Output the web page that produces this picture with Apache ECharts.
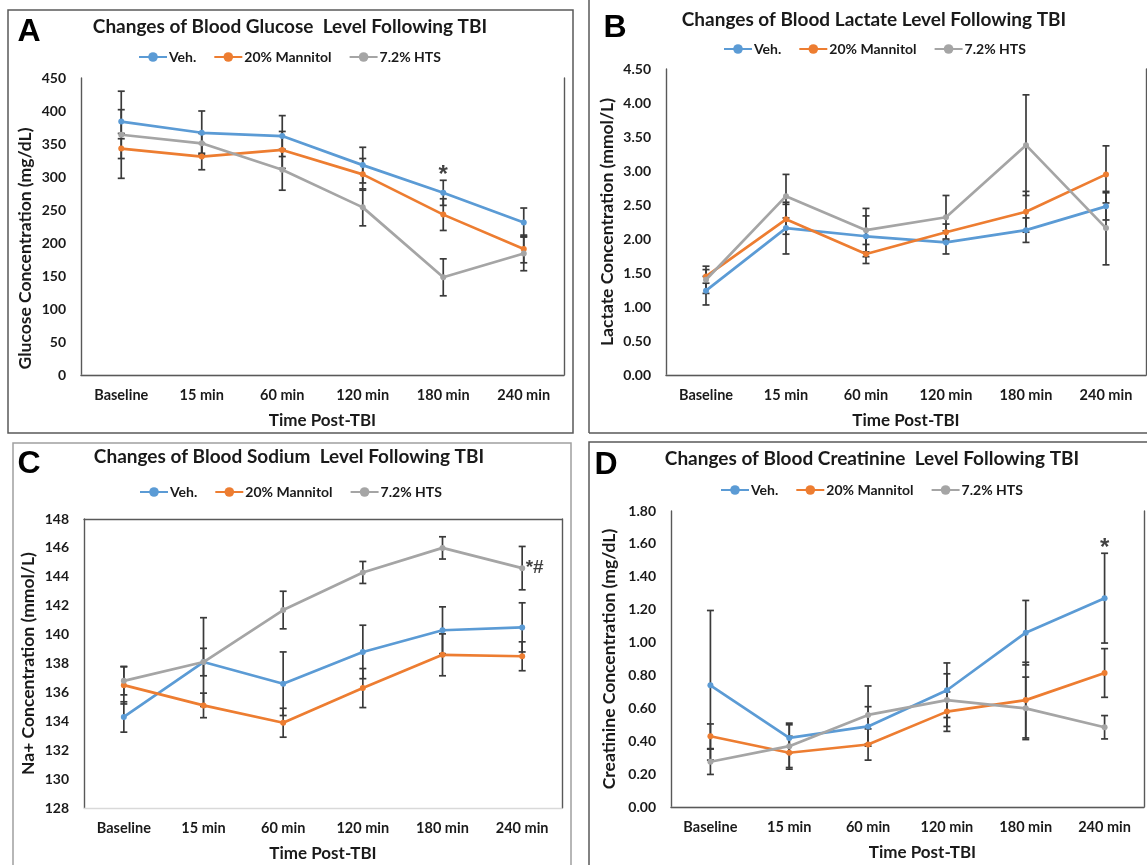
<!DOCTYPE html>
<html><head><meta charset="utf-8">
<script src="https://cdn.jsdelivr.net/npm/echarts@6/dist/echarts.min.js"></script>
<style>html,body{margin:0;padding:0;background:#fff}#c{width:1147px;height:865px}</style>
</head><body><div id="c"></div>
<script>
// ---------- DATA ----------
const categories = ['Baseline', '15 min', '60 min', '120 min', '180 min', '240 min'];
const seriesNames = ['Veh.', '20% Mannitol', '7.2% HTS'];
const panelLetters = ['A', 'B', 'C', 'D'];
const panelTitles = [
  'Changes of Blood Glucose  Level Following TBI',
  'Changes of Blood Lactate Level Following TBI',
  'Changes of Blood Sodium  Level Following TBI',
  'Changes of Blood Creatinine  Level Following TBI'
];
const yTitles = [
  'Glucose Concentration (mg/dL)',
  'Lactate Concentration (mmol/L)',
  'Na+ Concentration (mmol/L)',
  'Creatinine Concentration (mg/dL)'
];
const xTitle = 'Time Post-TBI';
const yMin = [0, 0, 128, 0];
const yMax = [450, 4.5, 148, 1.8];
const yStep = [50, 0.5, 2, 0.2];
const yDecimals = [0, 2, 0, 2];

// Panel A: glucose (mg/dL), mean and SE
const glucoseVeh   = [384, 367, 362, 318, 276, 231];
const glucoseVehSE = [18, 33, 31, 27, 19, 22];
const glucoseMan   = [343, 331, 341, 304, 243, 191];
const glucoseManSE = [15, 20, 28, 24, 24, 21];
const glucoseHts   = [364, 351, 311, 254, 148, 184];
const glucoseHtsSE = [66, 15, 31, 28, 28, 26];

// Panel B: lactate (mmol/L)
const lactateVeh   = [1.24, 2.16, 2.04, 1.95, 2.13, 2.48];
const lactateVehSE = [0.21, 0.38, 0.30, 0.17, 0.18, 0.20];
const lactateMan   = [1.45, 2.29, 1.78, 2.10, 2.40, 2.95];
const lactateManSE = [0.10, 0.22, 0.14, 0.12, 0.30, 0.42];
const lactateHts   = [1.40, 2.63, 2.13, 2.32, 3.38, 2.16];
const lactateHtsSE = [0.20, 0.32, 0.32, 0.32, 0.74, 0.54];

// Panel C: sodium (mmol/L)
const sodiumVeh   = [134.3, 138.1, 136.6, 138.8, 140.3, 140.5];
const sodiumVehSE = [1.05, 3.07, 2.2, 1.85, 1.62, 1.7];
const sodiumMan   = [136.5, 135.1, 133.9, 136.3, 138.6, 138.5];
const sodiumManSE = [1.3, 0.85, 1.0, 1.35, 1.45, 1.0];
const sodiumHts   = [136.8, 138.1, 141.7, 144.3, 146.0, 144.6];
const sodiumHtsSE = [0.97, 0.95, 1.3, 0.76, 0.77, 1.5];

// Panel D: creatinine (mg/dL)
const creatVeh   = [0.74, 0.42, 0.49, 0.71, 1.06, 1.27];
const creatVehSE = [0.455, 0.09, 0.12, 0.166, 0.196, 0.273];
const creatMan   = [0.43, 0.33, 0.38, 0.58, 0.65, 0.815];
const creatManSE = [0.075, 0.10, 0.095, 0.12, 0.23, 0.148];
const creatHts   = [0.275, 0.37, 0.56, 0.65, 0.60, 0.485];
const creatHtsSE = [0.077, 0.13, 0.176, 0.16, 0.19, 0.071];

// Significance marks: [panel, series index, category index, text, placement]
const marks = [
  [0, 0, 4, '*', 'top'],
  [2, 2, 5, '*#', 'right'],
  [3, 0, 5, '*', 'top']
];

// ---------- LAYOUT / STYLE ----------
const panelMeans = [
  [glucoseVeh, glucoseMan, glucoseHts],
  [lactateVeh, lactateMan, lactateHts],
  [sodiumVeh, sodiumMan, sodiumHts],
  [creatVeh, creatMan, creatHts]
];
const panelSE = [
  [glucoseVehSE, glucoseManSE, glucoseHtsSE],
  [lactateVehSE, lactateManSE, lactateHtsSE],
  [sodiumVehSE, sodiumManSE, sodiumHtsSE],
  [creatVehSE, creatManSE, creatHtsSE]
];
const colors = ['#5B9BD5', '#ED7D31', '#A5A5A5'];
const FONT = 'Lato';
const TXT = '#1a1a1a';
const FRAME = '#595959';
// plot rectangles [left, top, width, height]
const grids = [
  [81, 78, 483, 297],
  [666, 69, 480, 306],
  [84, 519, 478, 289],
  [671, 511, 473, 296]
];
const titleCenters = [[290, 17], [874, 10], [289, 447], [872, 449]];
const legendPos = [[138, 50], [723, 42], [139, 485], [720, 483]];
const letterPos = [[29, 32], [615, 28], [29, 464], [606, 465]];
const yNameGap = [47, 50, 47, 53];
const yNameShift = [[0, 44, 0, 0], 0, 0, 0];
const xNameShift = [0, 0, 0, [0, 0, 0, 30]];

const chart = echarts.init(document.getElementById('c'), null, {renderer: 'canvas'});

function errRender(params, api) {
  const x = api.value(0);
  const top = api.coord([x, api.value(2)]);
  const bot = api.coord([x, api.value(1)]);
  const w = 3.5;
  const st = {stroke: '#3a3a3a', lineWidth: 1.7};
  return {type: 'group', children: [
    {type: 'line', shape: {x1: top[0], y1: top[1], x2: bot[0], y2: bot[1]}, style: st},
    {type: 'line', shape: {x1: top[0] - w, y1: top[1], x2: top[0] + w, y2: top[1]}, style: st},
    {type: 'line', shape: {x1: bot[0] - w, y1: bot[1], x2: bot[0] + w, y2: bot[1]}, style: st}
  ]};
}

const option = {
  backgroundColor: '#fff',
  animation: false,
  title: [], legend: [], grid: [], xAxis: [], yAxis: [], series: [],
  graphic: []
};

for (let p = 0; p < 4; p++) {
  const g = grids[p];
  option.grid.push({left: g[0], top: g[1], width: g[2], height: g[3], containLabel: false});
  option.title.push({
    text: panelTitles[p], left: titleCenters[p][0], top: titleCenters[p][1], textAlign: 'center', padding: 0,
    textStyle: {fontFamily: FONT, fontWeight: 'bold', fontSize: 19, color: TXT}
  });
  option.legend.push({
    data: seriesNames, left: legendPos[p][0], top: legendPos[p][1], padding: 0,
    itemWidth: 28, itemHeight: 12, itemGap: 17, selectedMode: false,
    textStyle: {fontFamily: FONT, fontWeight: 'bold', fontSize: 14, color: TXT, padding: [0, 0, 0, -3]}
  });
  // bottom category axis
  option.xAxis.push({
    type: 'category', gridIndex: p, data: categories, boundaryGap: true,
    axisLine: {show: true, lineStyle: {color: '#D9D9D9', width: 1.3}},
    axisTick: {show: false},
    axisLabel: {fontFamily: FONT, fontWeight: 'bold', fontSize: 14.5, color: TXT, margin: 13},
    name: xTitle, nameLocation: 'middle', nameGap: 37,
    nameTextStyle: {fontFamily: FONT, fontWeight: 'bold', fontSize: 17, color: TXT, padding: xNameShift[p]}
  });
  // top frame line
  option.xAxis.push({
    type: 'category', gridIndex: p, data: categories, position: 'top',
    axisLine: {show: true, lineStyle: {color: FRAME, width: 1.4}},
    axisTick: {show: false}, axisLabel: {show: false}, splitLine: {show: false}
  });
  const dec = yDecimals[p];
  option.yAxis.push({
    type: 'value', gridIndex: p, min: yMin[p], max: yMax[p], interval: yStep[p],
    axisLine: {show: true, lineStyle: {color: FRAME, width: 1.4}},
    axisTick: {show: false}, splitLine: {show: false},
    axisLabel: {fontFamily: FONT, fontWeight: 'bold', fontSize: 14, color: TXT, margin: 15,
      formatter: v => v.toFixed(dec)},
    name: yTitles[p], nameLocation: 'middle', nameGap: yNameGap[p],
    nameTextStyle: {fontFamily: FONT, fontWeight: 'bold', fontSize: 17.5, color: TXT,
      padding: yNameShift[p]}
  });
  option.yAxis.push({
    type: 'value', gridIndex: p, min: yMin[p], max: yMax[p], interval: yStep[p], position: 'right',
    axisLine: {show: true, lineStyle: {color: FRAME, width: 1.4}},
    axisTick: {show: false}, axisLabel: {show: false}, splitLine: {show: false}
  });
  for (let s = 0; s < 3; s++) {
    const m = panelMeans[p][s], e = panelSE[p][s];
    option.series.push({
      type: 'custom', name: 'err' + p + s, xAxisIndex: 2 * p, yAxisIndex: 2 * p, z: 2,
      renderItem: errRender, silent: true,
      data: m.map((v, i) => [i, v - e[i], v + e[i]])
    });
  }
  for (let s = 0; s < 3; s++) {
    option.series.push({
      type: 'line', name: seriesNames[s], xAxisIndex: 2 * p, yAxisIndex: 2 * p, z: 3 + s,
      data: panelMeans[p][s], color: colors[s],
      symbol: 'circle', symbolSize: 6,
      lineStyle: {width: 2.7, color: colors[s]},
      itemStyle: {color: colors[s]}
    });
  }
  // panel letter
  option.graphic.push({
    type: 'text', x: letterPos[p][0], y: letterPos[p][1], z: 10,
    style: {text: panelLetters[p], fill: '#000', font: 'bold 32px "Liberation Sans"',
      textAlign: 'center', textVerticalAlign: 'middle'}
  });
}

// significance marks anchored to data
marks.forEach(mk => {
  const [p, s, i, txt, place] = mk;
  const v = panelMeans[p][s][i] + (place === 'top' ? panelSE[p][s][i] : 0);
  option.series.push({
    type: 'scatter', name: 'mark', xAxisIndex: 2 * p, yAxisIndex: 2 * p, z: 8,
    symbolSize: 1, itemStyle: {color: 'rgba(0,0,0,0)'}, silent: true,
    data: [[i, v]],
    label: {show: true, position: place, distance: place === 'top' ? -8 : 3, formatter: txt,
      fontFamily: 'Liberation Sans', fontWeight: 'bold', fontSize: place === 'top' ? 24 : 19, color: '#111'}
  });
});

// panel frames
option.graphic.push(
  {type: 'rect', shape: {x: 8, y: 10, width: 565, height: 423}, style: {fill: null, stroke: '#595959', lineWidth: 1.5}, z: -1},
  {type: 'line', shape: {x1: 589, y1: 0, x2: 589, y2: 433}, style: {stroke: '#595959', lineWidth: 1.5}, z: -1},
  {type: 'line', shape: {x1: 589, y1: 433, x2: 1147, y2: 433}, style: {stroke: '#595959', lineWidth: 1.5}, z: -1},
  {type: 'rect', shape: {x: 13, y: 443, width: 558, height: 430}, style: {fill: null, stroke: '#A0A0A0', lineWidth: 1.5}, z: -1},
  {type: 'rect', shape: {x: 589, y: 442, width: 570, height: 430}, style: {fill: null, stroke: '#595959', lineWidth: 1.5}, z: -1}
);

chart.setOption(option);
</script></body></html>
